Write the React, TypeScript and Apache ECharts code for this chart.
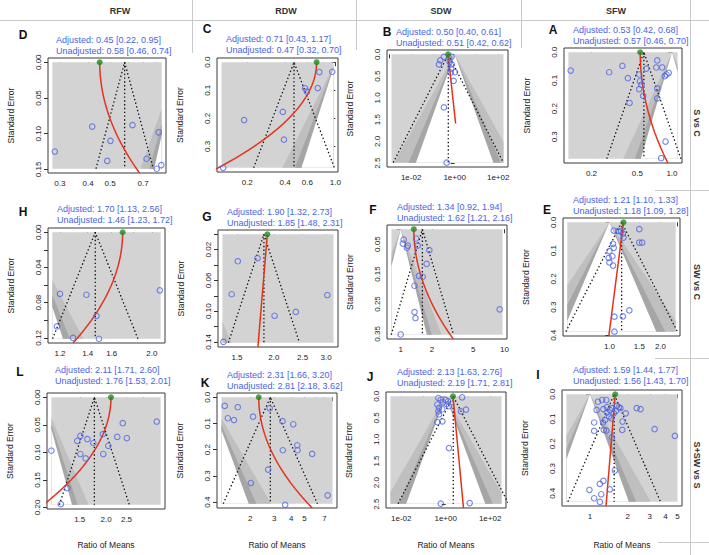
import React, { useEffect, useRef } from "react";
import * as echarts from "echarts";

const FONT = "'Liberation Sans', Arial, Helvetica, sans-serif";

// ---------- headings ----------
const columnTitles = ["RFW", "RDW", "SDW", "SFW"];
const rowTitles = ["S vs C", "SW vs C", "S+SW vs S"];

// ---------- Panel D : RFW, S vs C ----------
const dRatio = [0.285, 0.417, 0.502, 0.486, 0.628, 0.725, 0.82, 0.804, 0.842];
const dSE = [0.125, 0.09, 0.11, 0.138, 0.088, 0.135, 0.098, 0.149, 0.144];
const dAdjusted = [0.45, 0.22, 0.95];
const dUnadjusted = [0.58, 0.46, 0.74];
const dXTicks = [0.3, 0.4, 0.5, 0.6, 0.7, 0.8];
const dXText = ["0.3", "0.4", "0.5", "", "0.7", ""];
const dYTicks = [0, 0.05, 0.1, 0.15];
const dYText = ["0.00", "0.05", "0.10", "0.15"];
const dShadeX = [0.278, 0.845];
const dSEMax = 0.149;

// ---------- Panel C : RDW, S vs C ----------
const cRatio = [0.129, 0.189, 0.383, 0.391, 0.576, 0.595, 0.725, 0.747, 0.945];
const cSE = [0.376, 0.206, 0.177, 0.276, 0.093, 0.105, 0.092, 0.035, 0.034];
const cAdjusted = [0.71, 0.43, 1.17];
const cUnadjusted = [0.47, 0.32, 0.7];
const cXTicks = [0.2, 0.4, 0.6, 0.8, 1.0];
const cXText = ["0.2", "0.4", "0.6", "", "1.0"];
const cYTicks = [0, 0.1, 0.2, 0.3];
const cYText = ["0.0", "0.1", "0.2", "0.3"];
const cShadeX = [0.125, 0.967];
const cSEMax = 0.376;

// ---------- Panel B : SDW, S vs C ----------
const bRatio = [0.22, 0.19, 0.32, 0.55, 0.73, 0.59, 0.73, 0.7, 0.66, 1.04, 0.9, 0.32, 0.43];
const bSE = [0.138, 0.23, 0.06, 0.08, 0.055, 0.177, 0.23, 0.33, 0.42, 0.41, 0.61, 1.22, 2.49];
const bAdjusted = [0.5, 0.4, 0.61];
const bUnadjusted = [0.51, 0.42, 0.62];
const bXTicks = [0.001, 0.01, 0.1, 1, 10, 100];
const bXText = ["", "1e-02", "", "1e+00", "", "1e+02"];
const bYTicks = [0, 0.5, 1, 1.5, 2, 2.5];
const bYText = ["0.0", "0.5", "1.0", "1.5", "2.0", "2.5"];
const bShadeX = [0.00125, 176];
const bSEMax = 2.49;

// ---------- Panel A : SFW, S vs C ----------
const aRatio = [0.132, 0.285, 0.371, 0.414, 0.428, 0.52, 0.528, 0.52, 0.563, 0.544, 0.6, 0.745, 0.731, 0.822, 0.745, 0.745, 0.867, 0.896, 0.937, 0.879, 0.806];
const aSE = [0.065, 0.071, 0.048, 0.092, 0.18, 0.079, 0.103, 0.131, 0.155, 0.115, 0.058, 0.029, 0.054, 0.054, 0.128, 0.164, 0.085, 0.079, 0.073, 0.317, 0.376];
const aAdjusted = [0.53, 0.42, 0.68];
const aUnadjusted = [0.57, 0.46, 0.7];
const aXTicks = [0.2, 0.5, 1.0];
const aXText = ["0.2", "0.5", "1.0"];
const aYTicks = [0, 0.1, 0.2, 0.3];
const aYText = ["0.0", "0.1", "0.2", "0.3"];
const aShadeX = [0.126, 1.12];
const aSEMax = 0.378;

// ---------- Panel H : RFW, SW vs C ----------
const hRatio = [1.2, 1.39, 2.09, 1.47, 1.18, 1.29, 1.49];
const hSE = [0.07, 0.071, 0.066, 0.095, 0.107, 0.12, 0.121];
const hAdjusted = [1.7, 1.13, 2.56];
const hUnadjusted = [1.46, 1.23, 1.72];
const hXTicks = [1.2, 1.4, 1.6, 1.8, 2.0];
const hXText = ["1.2", "1.4", "1.6", "", "2.0"];
const hYTicks = [0, 0.02, 0.04, 0.06, 0.08, 0.1, 0.12];
const hYText = ["0.00", "", "0.04", "", "0.08", "", "0.12"];
const hShadeX = [1.15, 2.1];
const hSEMax = 0.121;

// ---------- Panel G : RDW, SW vs C ----------
const gRatio = [1.35, 1.44, 1.51, 1.76, 2.01, 2.37, 3.03];
const gSE = [0.14, 0.078, 0.035, 0.031, 0.106, 0.101, 0.079];
const gAdjusted = [1.9, 1.32, 2.73];
const gUnadjusted = [1.85, 1.48, 2.31];
const gXTicks = [1.5, 2, 2.5, 3];
const gXText = ["1.5", "2.0", "2.5", "3.0"];
const gYTicks = [0, 0.02, 0.04, 0.06, 0.08, 0.1, 0.12, 0.14];
const gYText = ["", "0.02", "", "0.06", "", "0.10", "", "0.14"];
const gShadeX = [1.34, 3.18];
const gSEMax = 0.141;

// ---------- Panel F : SDW, SW vs C ----------
const fRatio = [1.0, 1.07, 1.05, 1.17, 1.15, 1.41, 1.46, 1.89, 1.78, 1.5, 1.63, 1.36, 1.36, 1.39, 9.0];
const fSE = [0.352, 0.035, 0.048, 0.055, 0.062, 0.031, 0.055, 0.07, 0.116, 0.156, 0.159, 0.189, 0.277, 0.297, 0.268];
const fAdjusted = [1.34, 0.92, 1.94];
const fUnadjusted = [1.62, 1.21, 2.16];
const fXTicks = [1, 2, 5, 10];
const fXText = ["1", "2", "5", "10"];
const fYTicks = [0, 0.05, 0.1, 0.15, 0.2, 0.25, 0.3, 0.35];
const fYText = ["", "0.05", "", "0.15", "", "0.25", "", "0.35"];
const fShadeX = [0.815, 9.6];
const fSEMax = 0.353;

// ---------- Panel E : SFW, SW vs C ----------
const eRatio = [1.06, 1.13, 1.17, 1.2, 1.21, 1.5, 1.5, 1.56, 1.05, 1.06, 1.0, 1.04, 0.99, 1.0, 1.05, 1.31, 1.2, 1.07, 1.07];
const eSE = [0.029, 0.03, 0.032, 0.04, 0.054, 0.024, 0.072, 0.072, 0.076, 0.09, 0.102, 0.12, 0.126, 0.142, 0.153, 0.312, 0.333, 0.334, 0.387];
const eAdjusted = [1.21, 1.1, 1.33];
const eUnadjusted = [1.18, 1.09, 1.28];
const eXTicks = [1.0, 1.5, 2.0, 2.5];
const eXText = ["1.0", "1.5", "2.0", ""];
const eYTicks = [0, 0.1, 0.2, 0.3, 0.4];
const eYText = ["0.0", "0.1", "0.2", "0.3", "0.4"];
const eShadeX = [0.564, 2.46];
const eSEMax = 0.387;

// ---------- Panel L : RFW, S+SW vs S ----------
const lRatio = [1.1, 1.22, 1.31, 1.46, 1.51, 1.51, 1.63, 1.6, 1.74, 1.93, 1.94, 2.05, 2.26, 2.4, 2.51, 3.48];
const lSE = [0.097, 0.194, 0.165, 0.079, 0.07, 0.103, 0.076, 0.111, 0.083, 0.067, 0.103, 0.088, 0.072, 0.047, 0.074, 0.044];
const lAdjusted = [2.11, 1.71, 2.6];
const lUnadjusted = [1.76, 1.53, 2.01];
const lXTicks = [1.5, 2.0, 2.5, 3.0];
const lXText = ["1.5", "2.0", "2.5", ""];
const lYTicks = [0, 0.05, 0.1, 0.15, 0.2];
const lYText = ["0.00", "0.05", "0.10", "0.15", "0.20"];
const lShadeX = [1.1, 3.63];
const lSEMax = 0.195;

// ---------- Panel K : RDW, S+SW vs S ----------
const kRatio = [1.3, 1.62, 1.37, 1.52, 2.1, 2.78, 3.45, 4.14, 4.43, 4.45, 3.47, 5.7, 2.71, 2.02, 3.61, 7.4];
const kSE = [0.033, 0.038, 0.08, 0.087, 0.074, 0.042, 0.091, 0.103, 0.183, 0.202, 0.202, 0.216, 0.276, 0.327, 0.41, 0.374];
const kAdjusted = [2.31, 1.66, 3.2];
const kUnadjusted = [2.81, 2.18, 3.62];
const kXTicks = [2, 3, 4, 5, 6, 7, 8];
const kXText = ["2", "3", "4", "5", "", "7", ""];
const kYTicks = [0, 0.1, 0.2, 0.3, 0.4];
const kYText = ["0.0", "0.1", "0.2", "0.3", "0.4"];
const kShadeX = [1.23, 8.04];
const kSEMax = 0.406;

// ---------- Panel J : SDW, S+SW vs S ----------
const jRatio = [0.47, 0.6, 0.42, 0.5, 0.47, 0.5, 0.76, 1.0, 1.26, 1.1, 1.4, 0.7, 0.42, 0.71, 5.5, 4.9, 8.2, 1.4, 0.6, 12];
const jSE = [0.04, 0.08, 0.19, 0.27, 0.35, 0.42, 0.14, 0.09, 0.116, 0.18, 0.23, 0.3, 0.6, 0.58, 0.023, 0.35, 0.31, 1.2, 2.49, 2.475];
const jAdjusted = [2.13, 1.63, 2.76];
const jUnadjusted = [2.19, 1.71, 2.81];
const jXTicks = [0.01, 0.1, 1, 10, 100];
const jXText = ["1e-02", "", "1e+00", "", "1e+02"];
const jYTicks = [0, 0.5, 1, 1.5, 2, 2.5];
const jYText = ["0.0", "0.5", "1.0", "1.5", "2.0", "2.5"];
const jShadeX = [0.00325, 327];
const jSEMax = 2.49;

// ---------- Panel I : SFW, S+SW vs S ----------
const iRatio = [1.16, 1.25, 1.35, 1.13, 1.28, 1.37, 1.36, 1.44, 1.5, 1.42, 1.32, 1.27, 1.48, 1.55, 1.64, 1.7, 1.61, 1.75, 1.93, 2.36, 2.53, 1.82, 1.81, 1.08, 1.08, 1.29, 1.35, 1.5, 1.58, 3.28, 4.76, 1.44, 1.28, 1.2, 0.99, 1.23, 1.08, 1.2];
const iSE = [0.03, 0.023, 0.023, 0.063, 0.06, 0.052, 0.074, 0.063, 0.056, 0.09, 0.104, 0.114, 0.097, 0.077, 0.047, 0.052, 0.067, 0.056, 0.077, 0.056, 0.06, 0.11, 0.144, 0.114, 0.148, 0.144, 0.147, 0.174, 0.308, 0.141, 0.168, 0.384, 0.35, 0.362, 0.386, 0.404, 0.42, 0.435];
const iAdjusted = [1.59, 1.44, 1.77];
const iUnadjusted = [1.56, 1.43, 1.7];
const iXTicks = [1, 2, 3, 4, 5];
const iXText = ["1", "2", "3", "4", "5"];
const iYTicks = [0, 0.1, 0.2, 0.3, 0.4];
const iYText = ["0.0", "0.1", "0.2", "0.3", "0.4"];
const iShadeX = [0.649, 5.0];
const iSEMax = 0.434;

// Regression of log ratio on SE (PET, linear) or SE^2 (PEESE, quadratic):
// intercept is the adjusted estimate, slope is the fitted coefficient.
const fitSlopes = { D: 16.9, C: -12.7, B: 0.5, A: 3.58, H: -17.4, G: -0.5, F: 6.49, E: -0.495, L: -19.4, K: 5.07, J: 0.42, I: -0.374 };
const fitKinds = { D: "peese", C: "peese", B: "pet", A: "peese", H: "peese", G: "pet", F: "peese", E: "pet", L: "peese", K: "peese", J: "pet", I: "pet" };
const fitSEEnd = { B: 1.59 };
// half-width multiplier of the dotted pseudo-confidence funnel
const funnelZ = { B: 2.34, J: 2.3 };

const panels = [
  { id: "D", ratio: dRatio, se: dSE, adj: dAdjusted, unadj: dUnadjusted, xt: dXTicks, xs: dXText, yt: dYTicks, ys: dYText, shade: dShadeX, seMax: dSEMax },
  { id: "C", ratio: cRatio, se: cSE, adj: cAdjusted, unadj: cUnadjusted, xt: cXTicks, xs: cXText, yt: cYTicks, ys: cYText, shade: cShadeX, seMax: cSEMax },
  { id: "B", ratio: bRatio, se: bSE, adj: bAdjusted, unadj: bUnadjusted, xt: bXTicks, xs: bXText, yt: bYTicks, ys: bYText, shade: bShadeX, seMax: bSEMax },
  { id: "A", ratio: aRatio, se: aSE, adj: aAdjusted, unadj: aUnadjusted, xt: aXTicks, xs: aXText, yt: aYTicks, ys: aYText, shade: aShadeX, seMax: aSEMax },
  { id: "H", ratio: hRatio, se: hSE, adj: hAdjusted, unadj: hUnadjusted, xt: hXTicks, xs: hXText, yt: hYTicks, ys: hYText, shade: hShadeX, seMax: hSEMax },
  { id: "G", ratio: gRatio, se: gSE, adj: gAdjusted, unadj: gUnadjusted, xt: gXTicks, xs: gXText, yt: gYTicks, ys: gYText, shade: gShadeX, seMax: gSEMax },
  { id: "F", ratio: fRatio, se: fSE, adj: fAdjusted, unadj: fUnadjusted, xt: fXTicks, xs: fXText, yt: fYTicks, ys: fYText, shade: fShadeX, seMax: fSEMax },
  { id: "E", ratio: eRatio, se: eSE, adj: eAdjusted, unadj: eUnadjusted, xt: eXTicks, xs: eXText, yt: eYTicks, ys: eYText, shade: eShadeX, seMax: eSEMax },
  { id: "L", ratio: lRatio, se: lSE, adj: lAdjusted, unadj: lUnadjusted, xt: lXTicks, xs: lXText, yt: lYTicks, ys: lYText, shade: lShadeX, seMax: lSEMax },
  { id: "K", ratio: kRatio, se: kSE, adj: kAdjusted, unadj: kUnadjusted, xt: kXTicks, xs: kXText, yt: kYTicks, ys: kYText, shade: kShadeX, seMax: kSEMax },
  { id: "J", ratio: jRatio, se: jSE, adj: jAdjusted, unadj: jUnadjusted, xt: jXTicks, xs: jXText, yt: jYTicks, ys: jYText, shade: jShadeX, seMax: jSEMax },
  { id: "I", ratio: iRatio, se: iSE, adj: iAdjusted, unadj: iUnadjusted, xt: iXTicks, xs: iXText, yt: iYTicks, ys: iYText, shade: iShadeX, seMax: iSEMax },
];

// ---------- layout (pixels): plot box, panel letter, annotation origin ----------
const LAYOUT = {
  D: { box: [48, 58, 166, 173], letter: [23, 35], note: [56, 40] },
  C: { box: [217, 58, 338, 172], letter: [207, 29], note: [226, 39] },
  B: { box: [387, 50, 508, 167], letter: [387, 32], note: [396, 32] },
  A: { box: [564, 48, 682, 163], letter: [553, 30], note: [573, 30] },
  H: { box: [48, 228, 165, 343], letter: [23, 212], note: [57, 209] },
  G: { box: [218, 230, 338, 347], letter: [207, 217], note: [227, 212] },
  F: { box: [387, 225, 507, 339], letter: [373, 210], note: [397, 207] },
  E: { box: [563, 218, 680, 336], letter: [547, 210], note: [573, 200] },
  L: { box: [47, 393, 165, 509], letter: [20, 372], note: [55, 370] },
  K: { box: [217, 393, 337, 508], letter: [205, 383], note: [227, 375] },
  J: { box: [386, 392, 506, 508], letter: [370, 377], note: [397, 372] },
  I: { box: [562, 390, 682, 506], letter: [538, 375], note: [573, 370] },
};

const COLORS = {
  back: "#d3d3d3",
  band99: "#bfbfbf",
  band95: "#a6a6a6",
  inner: "#ffffff",
  point: "#5165e2",
  note: "#4a63e6",
  fit: "#e3321c",
  est: "#1d8c1d",
  ink: "#222222",
  rule: "#c9c9c9",
};

// contour levels (z multipliers) for p = 0.01, 0.05, 0.10 around a ratio of 1
const CONTOURS = [
  { z: 2.576, fill: COLORS.band99 },
  { z: 1.96, fill: COLORS.band95 },
  { z: 1.645, fill: COLORS.inner },
];

function clipEdge(poly: number[][], axis: number, bound: number, keepGreater: boolean) {
  const out: number[][] = [];
  for (let k = 0; k < poly.length; k++) {
    const a = poly[k];
    const b = poly[(k + 1) % poly.length];
    const ina = keepGreater ? a[axis] >= bound : a[axis] <= bound;
    const inb = keepGreater ? b[axis] >= bound : b[axis] <= bound;
    if (ina) out.push(a);
    if (ina !== inb) {
      const t = (bound - a[axis]) / (b[axis] - a[axis]);
      out.push([a[0] + t * (b[0] - a[0]), a[1] + t * (b[1] - a[1])]);
    }
  }
  return out;
}

function clipRect(poly: number[][], x0: number, x1: number, y0: number, y1: number) {
  let p = clipEdge(poly, 0, x0, true);
  if (p.length) p = clipEdge(p, 0, x1, false);
  if (p.length) p = clipEdge(p, 1, y0, true);
  if (p.length) p = clipEdge(p, 1, y1, false);
  return p;
}

const fmt2 = (v: number) => v.toFixed(2);

function buildOption() {
  const grid: any[] = [];
  const xAxis: any[] = [];
  const yAxis: any[] = [];
  const series: any[] = [];
  const graphic: any[] = [];

  panels.forEach((p, i) => {
    const L = (LAYOUT as any)[p.id];
    const [bl, bt, br, bb] = L.box;
    const lx0 = Math.log(p.shade[0]);
    const lx1 = Math.log(p.shade[1]);
    const padX = 0.04 * (lx1 - lx0);
    const S = p.seMax;

    grid.push({
      left: bl, top: bt, width: br - bl, height: bb - bt,
      show: true, borderColor: "#3a3a3a", borderWidth: 1, backgroundColor: "transparent",
      containLabel: false, outerBoundsMode: "none",
    });

    const xLabelVals = p.xt.filter((_, k) => p.xs[k] !== "").map(Math.log);
    xAxis.push({
      type: "value", gridIndex: i, min: lx0 - padX, max: lx1 + padX, position: "bottom",
      axisLine: { show: false }, splitLine: { show: false },
      axisTick: { show: true, length: 4, customValues: p.xt.map(Math.log), lineStyle: { color: "#333", width: 1 } },
      axisLabel: {
        customValues: xLabelVals, margin: 6, fontSize: 8, color: COLORS.ink, fontFamily: FONT,
        formatter: (v: number) => {
          let best = 0;
          p.xt.forEach((t, k) => { if (Math.abs(Math.log(t) - v) < Math.abs(Math.log(p.xt[best]) - v)) best = k; });
          return p.xs[best];
        },
      },
    });

    const yLabelVals = p.yt.filter((_, k) => p.ys[k] !== "");
    yAxis.push({
      type: "value", gridIndex: i, inverse: true, min: -0.04 * S, max: 1.04 * S,
      axisLine: { show: false }, splitLine: { show: false },
      axisTick: { show: true, length: 4, customValues: p.yt, lineStyle: { color: "#333", width: 1 } },
      axisLabel: {
        customValues: yLabelVals, rotate: 90, margin: 6, fontSize: 8, color: COLORS.ink, fontFamily: FONT,
        formatter: (v: number) => {
          let best = 0;
          p.yt.forEach((t, k) => { if (Math.abs(t - v) < Math.abs(p.yt[best] - v)) best = k; });
          return p.ys[best];
        },
      },
    });

    // contour-enhanced background
    series.push({
      type: "custom", xAxisIndex: i, yAxisIndex: i, silent: true, z: 1,
      data: [[lx0, 0]],
      renderItem: (_params: any, api: any) => {
        const rect = [[lx0, 0], [lx1, 0], [lx1, S], [lx0, S]];
        const layers = [{ poly: rect, fill: COLORS.back }].concat(
          CONTOURS.map((c) => ({
            poly: clipRect([[0, 0], [-c.z * S, S], [c.z * S, S]], lx0, lx1, 0, S),
            fill: c.fill,
          }))
        );
        return {
          type: "group",
          children: layers
            .filter((l) => l.poly.length > 2)
            .map((l) => ({
              type: "polygon",
              shape: { points: l.poly.map((pt) => api.coord(pt)) },
              style: { fill: l.fill, stroke: null },
            })),
        };
      },
    });

    // pseudo confidence funnel around the unadjusted estimate
    const lu = Math.log(p.unadj[0]);
    const zf = (funnelZ as any)[p.id] ?? 1.96;
    const dotted = { color: "#111", width: 1.3, type: [1.4, 2.4], cap: "butt" };
    series.push({
      type: "line", xAxisIndex: i, yAxisIndex: i, silent: true, z: 2, symbol: "none",
      data: [[lu - zf * S, S], [lu, 0], [lu + zf * S, S]], lineStyle: dotted,
    });
    series.push({
      type: "line", xAxisIndex: i, yAxisIndex: i, silent: true, z: 2, symbol: "none",
      data: [[lu, 0], [lu, S]], lineStyle: dotted,
    });

    // PET / PEESE fit
    const la = Math.log(p.adj[0]);
    const slope = (fitSlopes as any)[p.id];
    const kind = (fitKinds as any)[p.id];
    const seEnd = (fitSEEnd as any)[p.id] ?? 1.04 * S;
    const fit: number[][] = [];
    for (let k = 0; k <= 80; k++) {
      const s = (seEnd * k) / 80;
      fit.push([la + slope * (kind === "pet" ? s : s * s), s]);
    }
    series.push({
      type: "line", xAxisIndex: i, yAxisIndex: i, silent: true, z: 3, symbol: "none", clip: true,
      data: fit, lineStyle: { color: COLORS.fit, width: 1.5 },
    });

    // studies
    series.push({
      type: "scatter", xAxisIndex: i, yAxisIndex: i, silent: true, z: 4, symbol: "circle", symbolSize: 5.5,
      data: p.ratio.map((r, k) => [Math.log(r), p.se[k]]),
      itemStyle: { color: "rgba(255,255,255,0)", borderColor: COLORS.point, borderWidth: 1.1 },
    });

    // adjusted estimate
    series.push({
      type: "scatter", xAxisIndex: i, yAxisIndex: i, silent: true, z: 5, symbol: "circle", symbolSize: 6,
      data: [[la, 0]], itemStyle: { color: COLORS.est },
    });

    // texts
    graphic.push({
      type: "text", x: L.letter[0], y: L.letter[1],
      style: { text: p.id, font: `bold 12px ${FONT}`, fill: "#111", align: "center", verticalAlign: "middle" },
    });
    graphic.push({
      type: "text", x: L.note[0], y: L.note[1],
      style: { text: `Adjusted: ${fmt2(p.adj[0])} [${fmt2(p.adj[1])}, ${fmt2(p.adj[2])}]`, font: `9px ${FONT}`, fill: COLORS.note, align: "left", verticalAlign: "middle" },
    });
    graphic.push({
      type: "text", x: L.note[0], y: L.note[1] + 11,
      style: { text: `Unadjusted: ${fmt2(p.unadj[0])} [${fmt2(p.unadj[1])}, ${fmt2(p.unadj[2])}]`, font: `9px ${FONT}`, fill: COLORS.note, align: "left", verticalAlign: "middle" },
    });
    graphic.push({
      type: "text", x: bl - 37, y: (bt + bb) / 2, rotation: Math.PI / 2,
      style: { text: "Standard Error", font: `8.5px ${FONT}`, fill: COLORS.ink, align: "center", verticalAlign: "middle" },
    });
    if (i >= 8) {
      graphic.push({
        type: "text", x: (bl + br) / 2, y: 545,
        style: { text: "Ratio of Means", font: `8.5px ${FONT}`, fill: COLORS.ink, align: "center", verticalAlign: "middle" },
      });
    }
  });

  // column and row headings
  const colX = [120, 286, 441, 616];
  columnTitles.forEach((t, k) => {
    graphic.push({
      type: "text", x: colX[k], y: 11,
      style: { text: t, font: `bold 9px ${FONT}`, fill: "#333", align: "center", verticalAlign: "middle" },
    });
  });
  const rowY = [123, 282, 465];
  rowTitles.forEach((t, k) => {
    graphic.push({
      type: "text", x: 697, y: rowY[k], rotation: -Math.PI / 2,
      style: { text: t, font: `bold 9px ${FONT}`, fill: "#333", align: "center", verticalAlign: "middle" },
    });
  });

  // table rules
  const rules = [
    [0, 20.5, 709, 20.5],
    [192.5, 0, 192.5, 53],
    [356.5, 0, 356.5, 50],
    [521.5, 0, 521.5, 48],
    [690.5, 0, 690.5, 555],
    [655, 190.5, 709, 190.5],
    [655, 358.5, 709, 358.5],
    [658, 542.5, 709, 542.5],
  ];
  rules.forEach(([x1, y1, x2, y2]) => {
    graphic.push({
      type: "line", z: -1, shape: { x1, y1, x2, y2 }, style: { stroke: COLORS.rule, lineWidth: 1 }, silent: true,
    });
  });

  return {
    animation: false,
    backgroundColor: "#ffffff",
    textStyle: { fontFamily: FONT },
    grid, xAxis, yAxis, series, graphic,
  };
}

export default function App() {
  const ref = useRef<HTMLDivElement>(null);
  useEffect(() => {
    const chart = echarts.init(ref.current as HTMLDivElement, null, { renderer: "svg" });
    chart.setOption(buildOption() as any);
    return () => chart.dispose();
  }, []);
  return (
    <div
      ref={ref}
      style={{ position: "fixed", left: 0, top: 0, width: 709, height: 555, background: "#fff" }}
    />
  );
}
